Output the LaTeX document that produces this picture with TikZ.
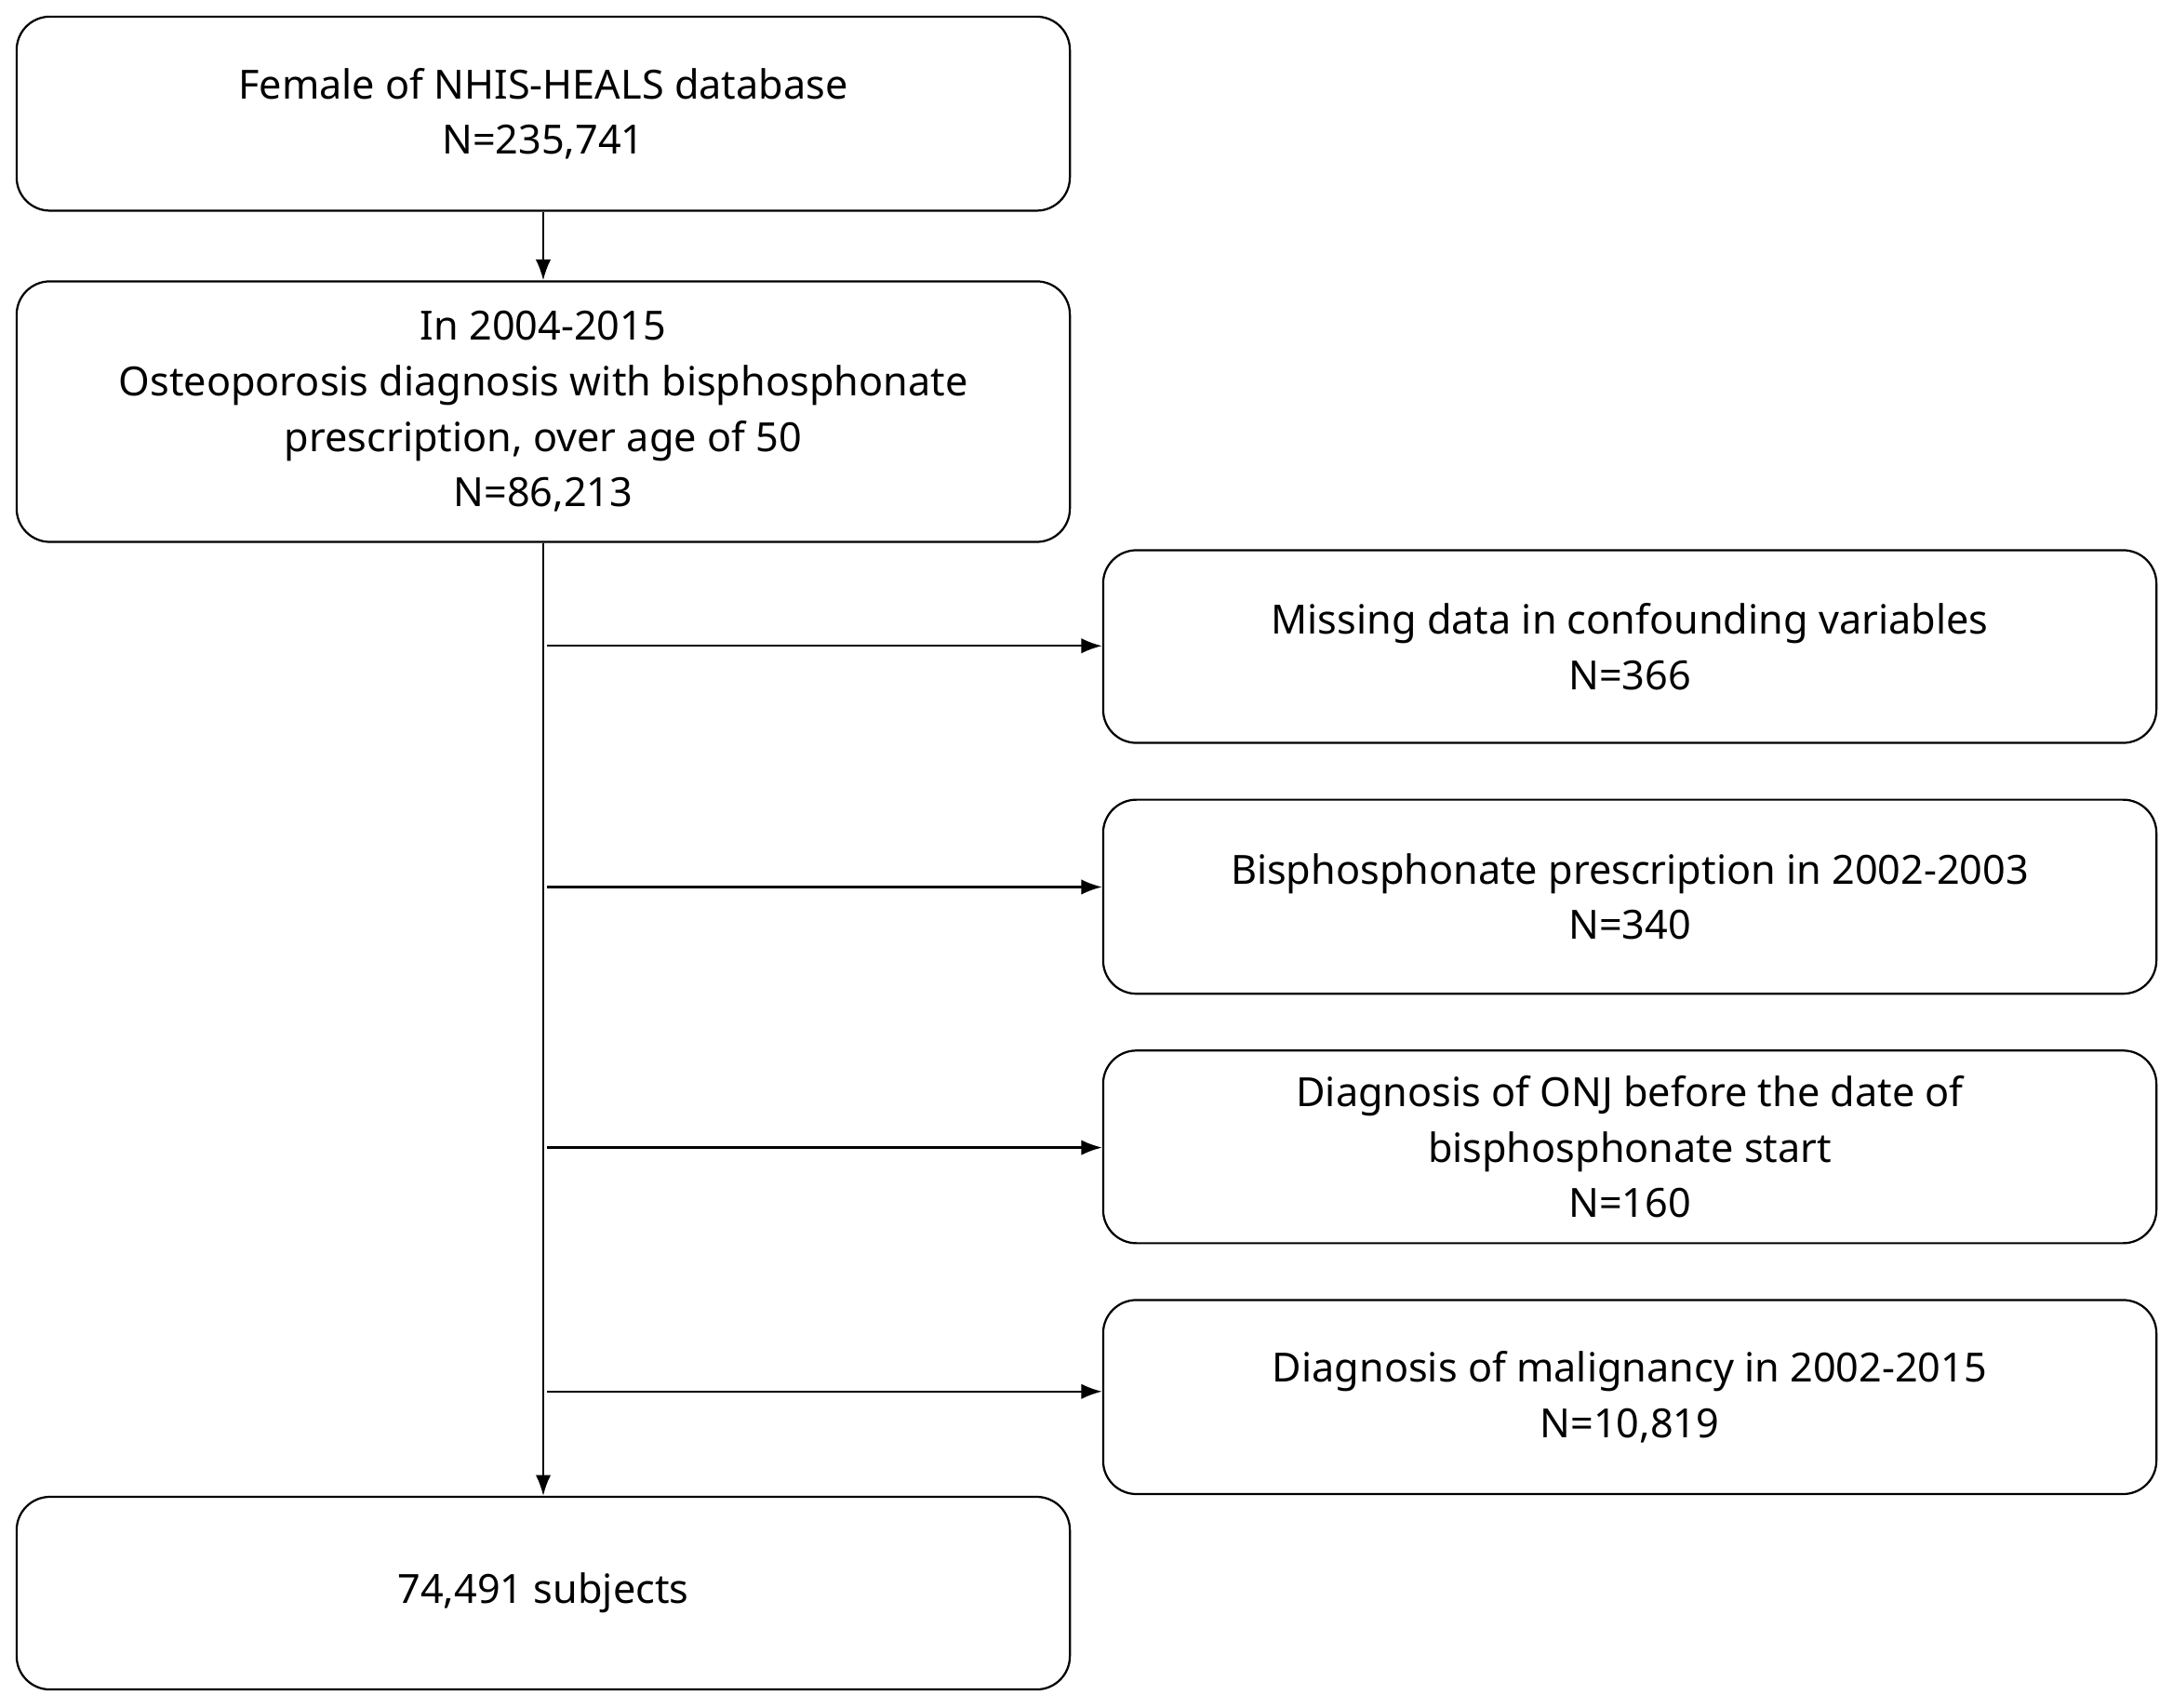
\documentclass[tikz,border=0pt]{standalone}
\usepackage{fontspec}
\setmainfont{Noto Sans}
\usetikzlibrary{arrows.meta}
\begin{document}
\begin{tikzpicture}[x=1pt,y=-1pt,
  box/.style={draw,line width=1.5pt,rounded corners=24pt,minimum width=760pt,align=center,inner sep=0pt,font=\fontsize{29}{40}\selectfont},
  arr/.style={line width=1.5pt,-{Latex[length=15pt,width=11pt]}}]
\useasboundingbox (0,0) rectangle (1568,1232);
\node[box,minimum height=140pt] (a) at (392,82) {Female of NHIS-HEALS database\\N=235,741};
\node[box,minimum height=188pt] (b) at (392,297) {In 2004-2015\\Osteoporosis diagnosis with bisphosphonate\\prescription, over age of 50\\N=86,213};
\node[box,minimum height=139pt] (c) at (1176,466.5) {Missing data in confounding variables\\N=366};
\node[box,minimum height=140pt] (d) at (1176,647) {Bisphosphonate prescription in 2002-2003\\N=340};
\node[box,minimum height=139pt] (e) at (1176,827.5) {Diagnosis of ONJ before the date of\\bisphosphonate start\\N=160};
\node[box,minimum height=140pt] (f) at (1176,1008) {Diagnosis of malignancy in 2002-2015\\N=10,819};
\node[box,minimum height=139pt] (g) at (392,1149.5) {74,491 subjects};
\draw[arr] (a) -- (b);
\draw[arr] (b) -- (g);
\coordinate (c0) at (395,466); \coordinate (d0) at (395,640);
\coordinate (e0) at (395,828); \coordinate (f0) at (395,1004);
\draw[arr] (c0) -- (c.west |- c0);
\draw[arr] (d0) -- (d.west |- d0);
\draw[arr] (e0) -- (e.west |- e0);
\draw[arr] (f0) -- (f.west |- f0);
\end{tikzpicture}
\end{document}
